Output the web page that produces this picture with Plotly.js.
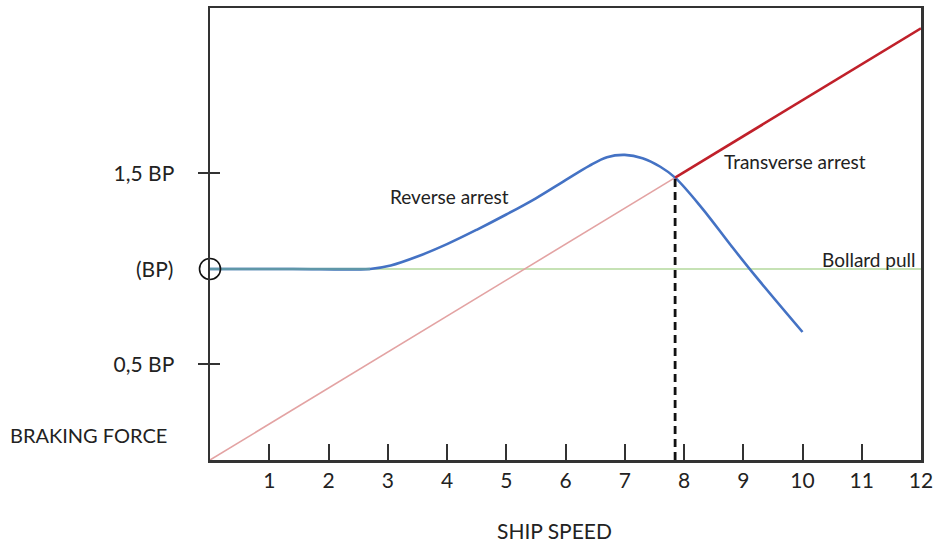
<!DOCTYPE html>
<html>
<head>
<meta charset="utf-8">
<script src="https://cdn.plot.ly/plotly-3.0.1.min.js"></script>
<style>html,body{margin:0;padding:0;background:#fff;}#chart{width:935px;height:542px;}</style>
</head>
<body>
<div id="chart"></div>
<script>
// Ship speed (x) and braking force in units of bollard pull (y)
const reverseX = [0, 1.4, 2.7, 3.05, 3.5, 4.0, 4.5, 5.0, 5.5, 6.0, 6.4, 6.7, 7.0, 7.3, 7.6, 7.85, 8.3, 8.8, 9.2, 10.0];
const reverseY = [1.0, 1.0, 1.0, 1.018, 1.065, 1.13, 1.205, 1.285, 1.37, 1.465, 1.54, 1.585, 1.597, 1.58, 1.535, 1.478, 1.32, 1.12, 0.965, 0.67];
const flatCount = 3; // points of the reverse-arrest curve lying on the bollard-pull line
const transverseLowX = [0, 7.85];
const transverseLowY = [0, 1.478];
const transverseX = [7.85, 12];
const transverseY = [1.478, 2.26];
const bollardX = [0, 12];
const bollardY = [1, 1];
const crossX = [7.85, 7.85];
const crossY = [0, 1.478];
const originX = [0];
const originY = [1];
const xTicks = [1, 2, 3, 4, 5, 6, 7, 8, 9, 10, 11, 12];
const yTickVals = [0.5, 1.5];
const yTickText = ['0,5 BP', '1,5 BP'];
const bpLabel = '(BP)';

const FONT = 'Lato, "Noto Sans", sans-serif';
const TXT = '#222222';

const traces = [
  {x: bollardX, y: bollardY, mode: 'lines', line: {color: '#b3d89c', width: 1.6}, hoverinfo: 'skip'},
  {x: transverseLowX, y: transverseLowY, mode: 'lines', line: {color: '#e3a3a3', width: 1.6}, hoverinfo: 'skip'},
  {x: reverseX, y: reverseY, mode: 'lines', line: {color: '#4472c4', width: 2.6, shape: 'spline', smoothing: 1}, hoverinfo: 'skip'},
  {x: reverseX.slice(0, flatCount), y: reverseY.slice(0, flatCount), mode: 'lines', line: {color: '#5f97a8', width: 2.6}, hoverinfo: 'skip'},
  {x: crossX, y: crossY, mode: 'lines', line: {color: '#111', width: 2.8, dash: '8px,5px'}, hoverinfo: 'skip'},
  {x: transverseX, y: transverseY, mode: 'lines', line: {color: '#c0202a', width: 2.6}, hoverinfo: 'skip'},
  {x: originX, y: originY, mode: 'markers', cliponaxis: false,
   marker: {symbol: 'circle-open', size: 21, color: '#111', line: {width: 1.6, color: '#111'}}, hoverinfo: 'skip'}
];

const layout = {
  width: 935, height: 542,
  margin: {l: 210, r: 14, t: 8, b: 82},
  paper_bgcolor: '#fff', plot_bgcolor: '#fff',
  showlegend: false,
  font: {family: FONT, size: 19, color: TXT},
  xaxis: {
    range: [0, 12], fixedrange: true,
    tickvals: xTicks, ticktext: xTicks.map(String),
    ticks: 'inside', ticklen: 16, tickwidth: 2, tickcolor: '#333',
    showline: true, linecolor: '#333', linewidth: 2.5, mirror: true,
    showgrid: false, zeroline: false,
    tickfont: {family: FONT, size: 21, color: TXT},
    ticklabelstandoff: 0
  },
  yaxis: {
    range: [0, 2.366], fixedrange: true,
    tickvals: yTickVals, ticktext: yTickText,
    ticks: 'outside', ticklen: 10, tickwidth: 2, tickcolor: '#333',
    showline: true, linecolor: '#333', linewidth: 2.5, mirror: true,
    showgrid: false, zeroline: false,
    tickfont: {family: FONT, size: 21, color: TXT},
    ticklabelstandoff: 19
  },
  yaxis2: {
    overlaying: 'y', range: [0, 2.366], fixedrange: true,
    tickvals: yTickVals, showticklabels: false,
    ticks: 'inside', ticklen: 10, tickwidth: 2, tickcolor: '#333',
    showline: false, showgrid: false, zeroline: false
  },
  annotations: [
    {xref: 'paper', yref: 'y', x: -0.0492, y: originY[0], xanchor: 'right', yanchor: 'middle',
     text: bpLabel, showarrow: false, font: {family: FONT, size: 21, color: TXT}},
    {xref: 'paper', yref: 'paper', x: -0.284, y: 0.055, xanchor: 'left', yanchor: 'middle',
     text: 'BRAKING FORCE', showarrow: false, font: {family: FONT, size: 20, color: TXT}},
    {xref: 'x', yref: 'paper', x: 5.82, y: -0.155, xanchor: 'center', yanchor: 'middle',
     text: 'SHIP SPEED', showarrow: false, font: {family: FONT, size: 21, color: TXT}},
    {xref: 'x', yref: 'y', x: 4.04, y: 1.377, xanchor: 'center', yanchor: 'middle',
     text: 'Reverse arrest', showarrow: false, font: {family: FONT, size: 19, color: TXT}},
    {xref: 'x', yref: 'y', x: 9.87, y: 1.565, xanchor: 'center', yanchor: 'middle',
     text: 'Transverse arrest', showarrow: false, font: {family: FONT, size: 19, color: TXT}},
    {xref: 'x', yref: 'y', x: 11.95, y: 1.05, xanchor: 'right', yanchor: 'middle',
     text: 'Bollard pull', showarrow: false, font: {family: FONT, size: 19, color: TXT}}
  ]
};

// a tiny invisible trace puts yaxis2 into play
traces.push({x: [0], y: [0], yaxis: 'y2', mode: 'markers', marker: {opacity: 0}, hoverinfo: 'skip'});

Plotly.newPlot('chart', traces, layout, {staticPlot: true, displayModeBar: false});
</script>
</body>
</html>
